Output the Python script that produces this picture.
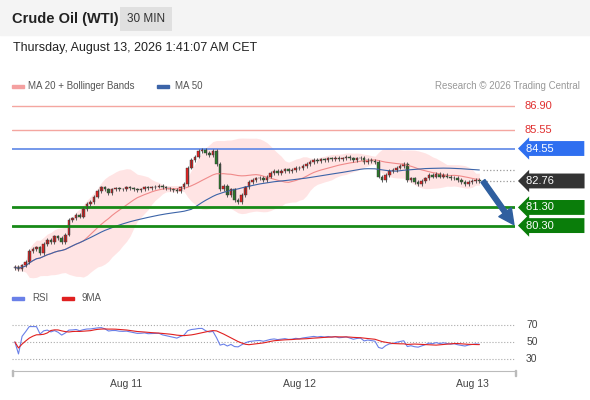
import numpy as np, pandas as pd, seaborn as sns, matplotlib
matplotlib.use("Agg")
import matplotlib.pyplot as plt
from matplotlib.patches import Rectangle

sns.set_style("white")
plt.rcParams['font.family'] = ['Liberation Sans', 'DejaVu Sans']

closes = [78.0,77.9,78.1,78.3,78.9,79.0,79.1,78.8,79.3,79.5,
79.4,79.7,79.6,79.4,79.8,80.6,80.7,80.9,80.8,81.2,
81.5,81.6,81.9,82.2,82.4,82.3,82.1,82.3,82.35,82.3,
82.3,82.4,82.35,82.3,82.25,82.3,82.4,82.35,82.4,82.45,
82.5,82.4,82.35,82.3,82.25,82.2,82.4,82.6,83.5,83.9,
84.1,84.4,84.5,84.3,84.2,84.4,83.7,82.3,82.5,82.0,
82.3,81.7,81.6,82.0,82.4,82.7,82.8,82.9,82.95,82.8,
83.0,83.2,83.3,83.2,83.3,83.4,83.3,83.35,83.5,83.45,
83.6,83.7,83.8,83.9,83.85,83.95,83.9,84.0,83.95,84.05,
83.95,84.0,84.1,84.0,83.9,84.0,84.05,83.8,83.9,83.85,
83.8,83.0,82.8,83.1,83.3,83.35,83.5,83.6,83.7,82.8,
82.9,82.7,82.6,82.75,82.9,83.1,83.0,83.15,83.0,83.1,
83.0,82.9,82.95,82.8,82.7,82.6,82.7,82.75,82.8,82.76]
day_labels = ["Aug 11", "Aug 12", "Aug 13"]
day_index = [31, 79, 127]
resist_levels = [86.90, 85.55, 84.55]
support_levels = [81.30, 80.30]
last_price = 82.76

c = pd.Series(closes)
o = c.shift(1).fillna(c.iloc[0] - 0.05)
idx = np.arange(len(c))
ma20 = c.rolling(20, min_periods=1).mean()
sd20 = c.rolling(20, min_periods=2).std().bfill()
ma50 = c.rolling(50, min_periods=1).mean()
up_b, lo_b = ma20 + 2 * sd20, ma20 - 2 * sd20
d = c.diff().fillna(0)
g = d.clip(lower=0).ewm(alpha=1/14).mean() + 0.02
l = (-d.clip(upper=0)).ewm(alpha=1/14).mean() + 0.02
rsi = 100 - 100 / (1 + g / l)
rsi = 50 + (rsi - 50) * 0.5
rsi9 = rsi.rolling(9, min_periods=1).mean()
df = pd.DataFrame(dict(i=idx, ma20=ma20, ma50=ma50, rsi=rsi, rsi9=rsi9))

W, H = 590, 400
fig = plt.figure(figsize=(5.9, 4.0), dpi=100)
fig.patches.append(Rectangle((0, 1 - 35/H), 1, 35/H, transform=fig.transFigure, color="#f4f4f4", zorder=0))
fig.text(12/W, 1 - 19/H, "Crude Oil (WTI)", fontsize=10.5, fontweight="bold", color="#222", va="center")
fig.text(146/W, 1 - 19/H, "30 MIN", fontsize=8.5, color="#333", va="center", ha="center",
         bbox=dict(boxstyle="square,pad=0.55", fc="#e0e0e0", ec="none"))
fig.text(13/W, 1 - 48/H, "Thursday, August 13, 2026 1:41:07 AM CET", fontsize=9, color="#222", va="center")

xl = (-0.8, 138.9)
ax = fig.add_axes([12/W, 1 - 280/H, 503/W, 185/H])
ax.set_xlim(*xl); ax.set_ylim(77.3, 87.5)
ax.fill_between(idx, lo_b, up_b, color="#ffdede", alpha=0.8, lw=0)
sns.lineplot(data=df, x="i", y="ma20", ax=ax, color="#f08a8a", lw=0.8)
sns.lineplot(data=df, x="i", y="ma50", ax=ax, color="#3c64a8", lw=0.8)
for lv in resist_levels[:2]:
    ax.axhline(lv, color="#f4a6a0", lw=1)
ax.axhline(resist_levels[2], color="#5c86e6", lw=1.2)
for lv in support_levels:
    ax.axhline(lv, color="#178a17", lw=2)
for i in idx:
    op, cl = o[i], c[i]
    col = "#e02424" if cl >= op else "#2c7a2c"
    ax.vlines(i, min(op, cl) - 0.1, max(op, cl) + 0.1, color="#444", lw=0.6)
    ax.bar(i, max(abs(cl - op), 0.03), bottom=min(op, cl), width=0.7, color=col, edgecolor="#333", lw=0.3)
ax.hlines([last_price, 83.35], 130, xl[1], colors="#999", linestyles=":", lw=0.9)
ax.annotate("", xy=(138.6, 80.35), xytext=(130, 82.76),
            arrowprops=dict(arrowstyle="simple,head_length=1.1,head_width=1.1,tail_width=0.35",
                            color="#2f5f9f", shrinkA=0, shrinkB=0), annotation_clip=False)
ax.set_xticks([]); ax.set_yticks([])
for s in ax.spines.values(): s.set_visible(False)
ax.set_xlabel(""); ax.set_ylabel("")

def tag(y, txt, fc):
    ax.annotate(txt, xy=(1.0, y), xycoords=("axes fraction", "data"), xytext=(8, 0),
                textcoords="offset points", va="center", ha="left", fontsize=8, color="white",
                bbox=dict(boxstyle="larrow,pad=0.22", fc=fc, ec="none"), annotation_clip=False)
for lv in resist_levels[:2]:
    ax.annotate(f"{lv:.2f}", xy=(1.0, lv), xycoords=("axes fraction", "data"), xytext=(7, 0),
                textcoords="offset points", va="center", fontsize=8, color="#e03030", annotation_clip=False)
tag(resist_levels[2], f"{resist_levels[2]:.2f}         ", "#2f6ff0")
tag(last_price, f"{last_price:.2f}         ", "#333333")
for lv in support_levels:
    tag(lv, f"{lv:.2f}         ", "#0a7d0a")

fig.patches.append(Rectangle((12/W, 1 - 88/H), 12/W, 3/H, transform=fig.transFigure, color="#f4a0a0"))
fig.text(28/W, 1 - 86/H, "MA 20 + Bollinger Bands", fontsize=7, color="#555", va="center")
fig.patches.append(Rectangle((157/W, 1 - 88/H), 12/W, 3/H, transform=fig.transFigure, color="#3c64a8"))
fig.text(175/W, 1 - 86/H, "MA 50", fontsize=7, color="#555", va="center")
fig.text(580/W, 1 - 86/H, "Research © 2026 Trading Central", fontsize=7, color="#999", va="center", ha="right")

ax2 = fig.add_axes([12/W, 1 - 370/H, 503/W, 60/H])
ax2.set_xlim(*xl); ax2.set_ylim(17, 87.6)
for lv in [70, 50, 30]:
    ax2.axhline(lv, color="#aaa", ls=":", lw=0.8)
    ax2.annotate(str(lv), xy=(1.0, lv), xycoords=("axes fraction", "data"), xytext=(8, 0),
                 textcoords="offset points", va="center", fontsize=7.5, color="#444", annotation_clip=False)
sns.lineplot(data=df, x="i", y="rsi", ax=ax2, color="#6a80e8", lw=0.8)
sns.lineplot(data=df, x="i", y="rsi9", ax=ax2, color="#e02020", lw=0.8)
ax2.set_xticks([]); ax2.set_yticks([])
for s in ax2.spines.values(): s.set_visible(False)
ax2.set_xlabel(""); ax2.set_ylabel("")
fig.patches.append(Rectangle((12/W, 1 - 300/H), 12/W, 3/H, transform=fig.transFigure, color="#6a80e8"))
fig.text(32/W, 1 - 298/H, "RSI", fontsize=7, color="#555", va="center")
fig.patches.append(Rectangle((62/W, 1 - 300/H), 12/W, 3/H, transform=fig.transFigure, color="#e02020"))
fig.text(82/W, 1 - 298/H, "9MA", fontsize=7, color="#555", va="center")

ax3 = fig.add_axes([12/W, 1 - 371/H, 503/W, 0.001])
ax3.set_xlim(*xl); ax3.set_yticks([])
for s in ["top", "left", "right"]: ax3.spines[s].set_visible(False)
ax3.spines["bottom"].set_color("#bbb")
ax3.set_xticks(day_index)
ax3.set_xticklabels(day_labels, fontsize=7.5, color="#444")
ax3.tick_params(axis="x", length=4, color="#bbb", pad=2)
fig.patches.append(Rectangle((12/W, 1 - 376/H), 0.6/W, 6/H, transform=fig.transFigure, color="#bbb"))
fig.patches.append(Rectangle((515/W, 1 - 376/H), 0.6/W, 6/H, transform=fig.transFigure, color="#bbb"))
fig.savefig("out.png", dpi=100)
